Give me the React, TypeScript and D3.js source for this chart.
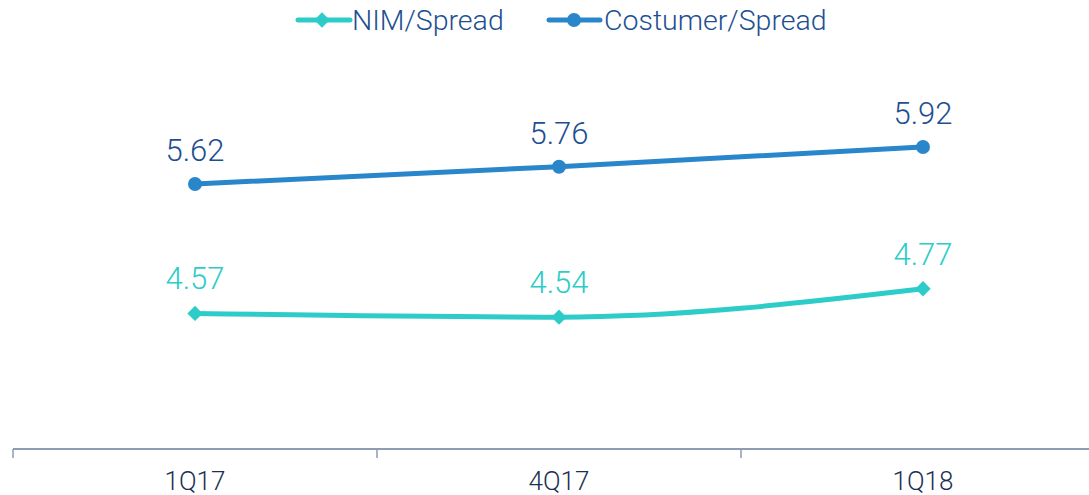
import React from "react";
import * as d3 from "d3";

const categories = ["1Q17", "4Q17", "1Q18"];
const nimValues = [4.57, 4.54, 4.77];
const customerValues = [5.62, 5.76, 5.92];
const seriesNames = ["NIM/Spread", "Costumer/Spread"];

const width = 1089;
const height = 495;
const nimColor = "#2dccc9";
const custColor = "#2a86ca";
const font = "Roboto, 'Open Sans', sans-serif";

const App = () => {
  const x = d3.scaleBand<string>().domain(categories).range([13, 1105]).padding(0);
  const y = d3.scaleLinear().domain([3.5, 6.0]).range([445.4, 137.1]);
  const cx = (c: string) => (x(c) ?? 0) + x.bandwidth() / 2;

  const line = d3
    .line<number>()
    .x((_, i) => cx(categories[i]))
    .y((d) => y(d))
    .curve(d3.curveMonotoneX);

  const diamond = d3.symbol().type(d3.symbolDiamond2).size(150)();
  const baseY = 449;

  return (
    <svg
      width={width}
      height={height}
      style={{ position: "absolute", left: 0, top: 0, fontFamily: font }}
    >
      {/* legend */}
      <g>
        <line x1={298} x2={350} y1={20} y2={20} stroke={nimColor} strokeWidth={5} strokeLinecap="round" />
        <path d={diamond || ""} transform="translate(322,20)" fill={nimColor} />
        <text x={352} y={30} fontSize={28.5} fontWeight={300} fill="#1d4f91">
          {seriesNames[0]}
        </text>
        <line x1={549} x2={600} y1={20} y2={20} stroke={custColor} strokeWidth={5} strokeLinecap="round" />
        <circle cx={574} cy={20} r={7} fill={custColor} />
        <text x={604} y={30} fontSize={28.5} fontWeight={300} fill="#1d4f91">
          {seriesNames[1]}
        </text>
      </g>

      {/* axis */}
      <line x1={13} x2={width} y1={baseY} y2={baseY} stroke="#8d9cb3" strokeWidth={2} />
      {categories.map((c) => (
        <line key={"t" + c} x1={x(c)} x2={x(c)} y1={baseY} y2={baseY + 9} stroke="#8d9cb3" strokeWidth={1.5} />
      ))}
      {categories.map((c) => (
        <text key={"l" + c} x={cx(c)} y={490} textAnchor="middle" fontSize={26} fontWeight={300} fill="#1b2f52">
          {c}
        </text>
      ))}

      {/* lines */}
      <path d={line(nimValues) || ""} fill="none" stroke={nimColor} strokeWidth={5} />
      <path d={line(customerValues) || ""} fill="none" stroke={custColor} strokeWidth={5} />

      {nimValues.map((v, i) => (
        <g key={"n" + i}>
          <path d={diamond || ""} transform={`translate(${cx(categories[i])},${y(v)})`} fill={nimColor} />
          <text x={cx(categories[i])} y={y(v) - 24} textAnchor="middle" fontSize={31} fontWeight={300} fill={nimColor}>
            {v.toFixed(2)}
          </text>
        </g>
      ))}
      {customerValues.map((v, i) => (
        <g key={"c" + i}>
          <circle cx={cx(categories[i])} cy={y(v)} r={7} fill={custColor} />
          <text x={cx(categories[i])} y={y(v) - 23} textAnchor="middle" fontSize={31} fontWeight={300} fill="#1d4f91">
            {v.toFixed(2)}
          </text>
        </g>
      ))}
    </svg>
  );
};

export default App;
